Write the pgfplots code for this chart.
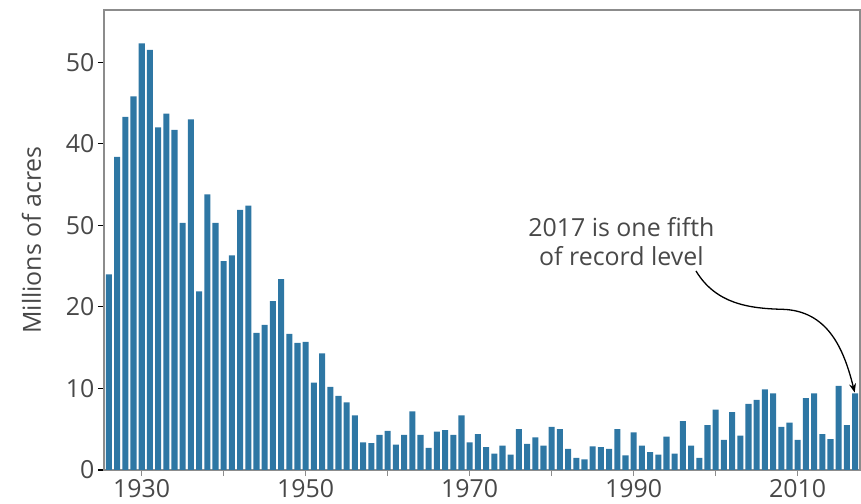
\documentclass[border=0pt]{standalone}
\usepackage{fontspec}
\setmainfont{Open Sans}
\usepackage{pgfplots}
\pgfplotsset{compat=1.18}
\usetikzlibrary{arrows.meta}
\definecolor{barblue}{RGB}{46,119,164}
\definecolor{txt}{RGB}{72,72,72}
\definecolor{frame}{RGB}{140,140,140}

% acres burned, millions
\pgfplotstableread{
year acres
1926 24.0
1927 38.4
1928 43.3
1929 45.8
1930 52.3
1931 51.5
1932 42.0
1933 43.7
1934 41.7
1935 30.3
1936 43.0
1937 21.9
1938 33.8
1939 30.3
1940 25.6
1941 26.3
1942 31.9
1943 32.4
1944 16.8
1945 17.8
1946 20.7
1947 23.4
1948 16.7
1949 15.6
1950 15.7
1951 10.7
1952 14.3
1953 10.2
1954 9.1
1955 8.3
1956 6.7
1957 3.4
1958 3.3
1959 4.3
1960 4.8
1961 3.1
1962 4.3
1963 7.2
1964 4.3
1965 2.7
1966 4.7
1967 4.9
1968 4.3
1969 6.7
1970 3.4
1971 4.4
1972 2.8
1973 2.0
1974 3.0
1975 1.9
1976 5.0
1977 3.2
1978 4.0
1979 3.0
1980 5.3
1981 5.0
1982 2.6
1983 1.5
1984 1.3
1985 2.9
1986 2.8
1987 2.6
1988 5.0
1989 1.8
1990 4.6
1991 3.0
1992 2.2
1993 1.9
1994 4.1
1995 2.0
1996 6.0
1997 3.0
1998 1.5
1999 5.5
2000 7.4
2001 3.7
2002 7.1
2003 4.2
2004 8.1
2005 8.6
2006 9.9
2007 9.4
2008 5.3
2009 5.8
2010 3.7
2011 8.8
2012 9.4
2013 4.4
2014 3.8
2015 10.3
2016 5.5
2017 9.4
}\fires

\begin{document}
\begin{tikzpicture}
\begin{axis}[
    scale only axis,
    width=756bp, height=460bp,
    xmin=1925.4, xmax=2017.6,
    ymin=0, ymax=56.4,
    axis line style={frame, line width=1.3bp},
    tick pos=left,
    tick align=outside,
    major tick length=6bp,
    xtick={1930,1940,...,2010},
    xticklabels={1930,,1950,,1970,,1990,,2010},
    ytick={0,10,...,50},
    yticklabels={0,10,20,50,40,50},
    xtick style={frame, line width=1.5bp},
    ytick style={black, line width=1.2bp},
    ticklabel style={font=\fontsize{25}{30}\selectfont, text=txt},
    /pgf/number format/assume math mode=true,
    ylabel={Millions of acres},
    ylabel style={font=\fontsize{25}{30}\selectfont, text=txt},
    ylabel shift=18bp,
]
\addplot[ybar, bar width=0.74, fill=barblue, draw=none] table[x=year, y=acres] {\fires};

\coordinate (O) at (rel axis cs:0,0);
\coordinate (T) at (rel axis cs:1,1);

\node[align=center, text=txt, font=\fontsize{25}{29}\selectfont]
    at (axis cs:1988.5,28.0) {2017 is one fifth\\of record level};
\draw[-{Stealth[length=9bp,width=7bp]}, black, line width=1.3bp]
    (axis cs:1997.6,24.4) .. controls (axis cs:2000,20.4) and (axis cs:2004,19.8) ..
    (axis cs:2008.2,19.7) .. controls (axis cs:2013.6,19.5) and (axis cs:2015.6,15) ..
    (axis cs:2016.95,9.5);
\end{axis}
\pgfresetboundingbox
\path[use as bounding box] ([shift={(-104bp,-34bp)}]O) rectangle ([shift={(1bp,10bp)}]T);
\end{tikzpicture}
\end{document}
